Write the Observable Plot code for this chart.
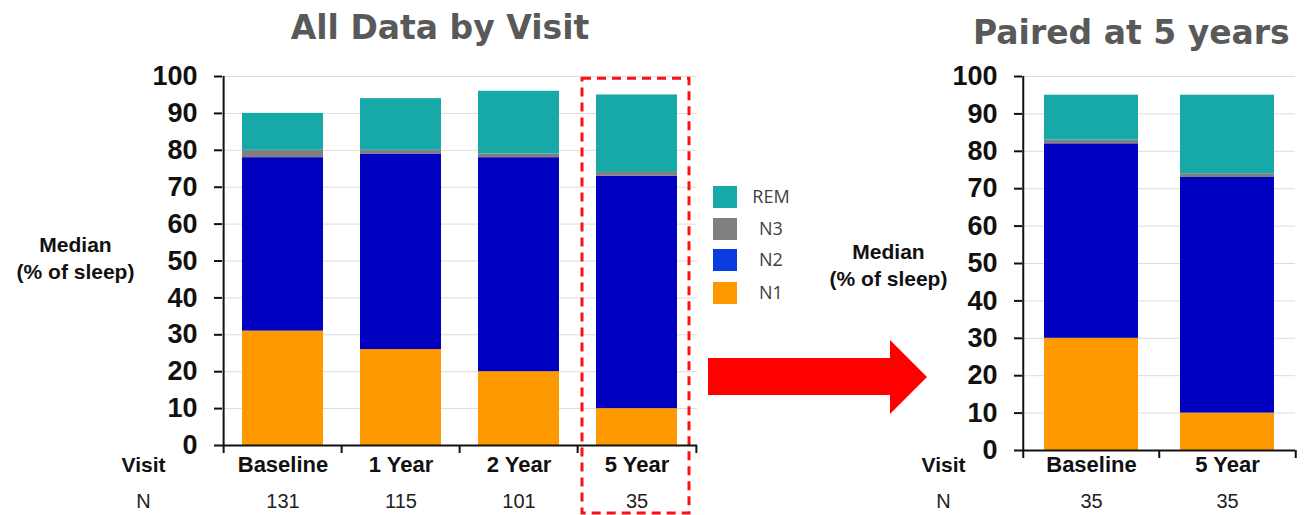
<!DOCTYPE html>
<html>
<head>
<meta charset="utf-8">
<script src="https://cdn.jsdelivr.net/npm/d3@7"></script>
<script src="https://cdn.jsdelivr.net/npm/@observablehq/plot@0.6"></script>
<style>
  html, body { margin: 0; padding: 0; background: #fff; }
  #root { position: relative; width: 1310px; height: 515px; overflow: hidden; background: #fff; }
  #root .chart { position: absolute; top: 0; }
  #overlay { position: absolute; left: 0; top: 0; pointer-events: none; }
</style>
</head>
<body>
<div id="root"></div>
<script>
// ---------- data ----------
const stages = ["N1", "N2", "N3", "REM"];
const stageColors = ["#FF9900", "#0000C0", "#808080", "#17A8A8"];
const legendColors = ["#FF9900", "#0A3CE0", "#808080", "#17A8A8"];

const visitsAll = ["Baseline", "1 Year", "2 Year", "5 Year"];
const nAll = [131, 115, 101, 35];
const n1All = [31, 26, 20, 10];
const n2All = [47, 53, 58, 63];
const n3All = [2, 1, 1, 1];
const remAll = [10, 14, 17, 21];

const visitsPaired = ["Baseline", "5 Year"];
const nPaired = [35, 35];
const n1Paired = [30, 10];
const n2Paired = [52, 63];
const n3Paired = [1, 1];
const remPaired = [12, 21];

const yTicks = [0, 10, 20, 30, 40, 50, 60, 70, 80, 90, 100];
const highlightVisit = "5 Year";
const titleLeft = "All Data by Visit";
const titleRight = "Paired at 5 years";
const yLabel = "Median\n(% of sleep)";

// ---------- chart builder ----------
function buildChart(cfg) {
  const series = [cfg.n1, cfg.n2, cfg.n3, cfg.rem];
  const rows = cfg.visits.flatMap((v, i) =>
    stages.map((s, j) => ({visit: v, stage: s, value: series[j][i]})));
  const nRows = cfg.visits.map((v, i) => ({visit: v, n: cfg.n[i]}));
  const H = 515, mt = 76;
  const innerW = cfg.width - cfg.ml - cfg.mr;
  const innerH = H - mt - cfg.mb;
  const step = innerW / cfg.visits.length;
  const unit = 100 / innerH;            // data units per pixel
  const tickU = 8 * unit;
  const first = cfg.visits[0], last = cfg.visits[cfg.visits.length - 1];
  const font = "'Liberation Sans', Arial, sans-serif";

  const marks = [
    Plot.ruleY(yTicks.filter(d => d > 0), {stroke: "#dcdcdc", strokeWidth: 1}),
    Plot.barY(rows, {x: "visit", y: "value", fill: "stage", order: stages})
  ];
  if (cfg.highlight) {
    marks.push(Plot.barY([cfg.highlight], {
      x: d => d, y1: 99.4, y2: -18.4,
      fill: "none", stroke: "#FF1010", strokeWidth: 3, strokeDasharray: "9,6",
      insetLeft: -14, insetRight: -12
    }));
  }
  marks.push(
    Plot.ruleY([0], {stroke: "#111", strokeWidth: 2}),
    Plot.ruleX([first], {x: d => d, y1: -tickU, y2: 100, dx: -step / 2, stroke: "#111", strokeWidth: 2}),
    Plot.ruleX(cfg.visits.slice(1), {x: d => d, y1: 0, y2: -tickU, dx: -step / 2, stroke: "#111", strokeWidth: 2}),
    Plot.ruleX([last], {x: d => d, y1: 0, y2: -tickU, dx: step / 2, stroke: "#111", strokeWidth: 2}),
    Plot.axisY(yTicks, {tickSize: 8, tickPadding: 17, fontSize: 27, fontWeight: "bold",
      tickFormat: d => String(d), stroke: "#111", strokeWidth: 2, fill: "#111", label: null}),
    Plot.axisX({tickSize: 0, tickPadding: cfg.catPad, fontSize: 22, fontWeight: "bold", fill: "#111", label: null}),
    Plot.text(nRows, {x: "visit", text: d => String(d.n), frameAnchor: "bottom", dy: cfg.nDy,
      textAnchor: "middle", lineAnchor: "middle", fontSize: 20, fill: "#222"}),
    Plot.text(["Visit"], {frameAnchor: "bottom-left", dx: -79, dy: cfg.visitDy,
      textAnchor: "middle", lineAnchor: "middle", fontSize: 21, fontWeight: "bold", fill: "#111"}),
    Plot.text(["N"], {frameAnchor: "bottom-left", dx: -79, dy: cfg.nDy,
      textAnchor: "middle", lineAnchor: "middle", fontSize: 20, fill: "#222"}),
    Plot.text([yLabel], {frameAnchor: "left", dx: cfg.labelDx, dy: cfg.labelDy,
      textAnchor: "middle", lineAnchor: "middle", fontSize: 21, fontWeight: "bold", fill: "#111", lineHeight: 1.3})
  );

  return Plot.plot({
    width: cfg.width, height: H,
    marginTop: mt, marginBottom: cfg.mb, marginLeft: cfg.ml, marginRight: cfg.mr,
    style: {fontFamily: font, background: "transparent", overflow: "visible"},
    x: {domain: cfg.visits, paddingInner: 0.31, paddingOuter: 0.155},
    y: {domain: [0, 100]},
    color: {domain: stages, range: stageColors},
    marks
  });
}

const root = document.getElementById("root");

const left = buildChart({
  visits: visitsAll, n: nAll, n1: n1All, n2: n2All, n3: n3All, rem: remAll,
  width: 720, ml: 222, mr: 23, mb: 70,
  catPad: 11, visitDy: 20, nDy: 56, labelDx: -147, labelDy: -4,
  highlight: highlightVisit
});
const leftWrap = document.createElement("div");
leftWrap.className = "chart";
leftWrap.style.left = "0px";
leftWrap.appendChild(left);
root.appendChild(leftWrap);

const right = buildChart({
  visits: visitsPaired, n: nPaired, n1: n1Paired, n2: n2Paired, n3: n3Paired, rem: remPaired,
  width: 510, ml: 222, mr: 15, mb: 65,
  catPad: 6, visitDy: 15, nDy: 51, labelDx: -134, labelDy: 0,
  highlight: null
});
const rightWrap = document.createElement("div");
rightWrap.className = "chart";
rightWrap.style.left = "800px";
rightWrap.appendChild(right);
root.appendChild(rightWrap);

// ---------- overlay: titles, legend, arrow ----------
const ov = d3.select(root).append("svg")
  .attr("id", "overlay").attr("width", 1310).attr("height", 515);

ov.append("text").text(titleLeft)
  .attr("x", 440).attr("y", 39).attr("text-anchor", "middle")
  .attr("font-family", "'DejaVu Sans', Verdana, sans-serif").attr("font-weight", "bold")
  .attr("font-size", 33).attr("fill", "#595959");
ov.append("text").text(titleRight)
  .attr("x", 973).attr("y", 44).attr("text-anchor", "start")
  .attr("font-family", "'DejaVu Sans', Verdana, sans-serif").attr("font-weight", "bold")
  .attr("font-size", 33).attr("fill", "#595959");

const legendOrder = stages.map((s, i) => ({s, c: legendColors[i]})).reverse();
const lg = ov.append("g");
const legendY = [186, 218, 249, 282];
legendOrder.forEach((d, i) => {
  lg.append("rect").attr("x", 713).attr("y", legendY[i]).attr("width", 24).attr("height", 22).attr("fill", d.c);
  lg.append("text").text(d.s).attr("x", 771).attr("y", legendY[i] + 11).attr("dy", "0.35em")
    .attr("text-anchor", "middle").attr("font-family", "'Open Sans', sans-serif")
    .attr("font-size", 18).attr("fill", "#404040");
});

ov.append("polygon")
  .attr("points", "708,358 890,358 890,340 927,377 890,414 890,395 708,395")
  .attr("fill", "#FF0000");
</script>
</body>
</html>
